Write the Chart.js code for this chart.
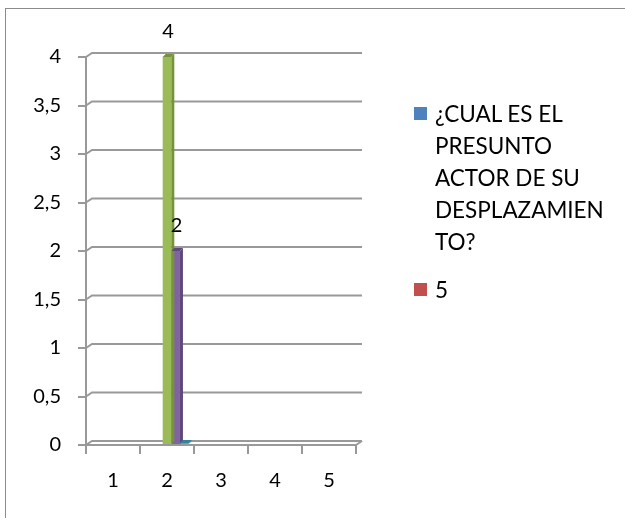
<!DOCTYPE html>
<html>
<head>
<meta charset="utf-8">
<script src="https://cdn.jsdelivr.net/npm/chart.js@4.4.0/dist/chart.umd.min.js"></script>
<style>
  html, body { margin: 0; padding: 0; background: #fff; overflow: hidden; }
  #wrap { position: relative; width: 625px; height: 518px; overflow: hidden; }
  #frame { position: absolute; left: 5px; top: 8px; width: 700px; height: 600px; border: 1px solid #8c8c8c; }
  #myChart { position: absolute; left: 0; top: 0; }
  .sw { position: absolute; width: 13px; height: 13px; }
  .lt { position: absolute; font-family: Lato, sans-serif; font-size: 22.5px; line-height: 32px; color: #000; white-space: nowrap; }
</style>
</head>
<body>
<div id="wrap">
  <div id="frame"></div>
  <canvas id="myChart" width="625" height="518"></canvas>
  <div id="legend"></div>
</div>
<script>
// Datos del gráfico
const categories = ["1", "2", "3", "4", "5"];
const seriesNames = ["¿CUAL ES EL PRESUNTO ACTOR DE SU DESPLAZAMIENTO?", "5", "Serie 3", "Serie 4", "Serie 5"];
const serie1 = [null, null, null, null, null];
const serie2 = [null, null, null, null, null];
const serie3 = [null, 4, null, null, null];
const serie4 = [null, 2, null, null, null];
const serie5 = [null, 0, null, null, null];
const colors = ["#4F81BD", "#C0504D", "#9BBB59", "#8064A2", "#4BACC6"];
const sideColors = ["#3A6394", "#963C3A", "#76923C", "#5F497A", "#31849B"];
// la leyenda solo muestra las dos primeras series, con el texto partido como en Excel
const legendLines = [["¿CUAL ES EL", "PRESUNTO", "ACTOR DE SU", "DESPLAZAMIEN", "TO?"], ["5"]];
const labelled = [2, 3]; // series con etiqueta de valor

Chart.defaults.font.family = "Lato, sans-serif";
Chart.defaults.color = "#000";

const dx = 3, dy = -3; // profundidad de las barras

// rejilla con efecto 3D (pared de fondo desplazada)
const grid3d = {
  id: "grid3d",
  beforeDatasetsDraw(chart) {
    const { ctx, chartArea, scales } = chart;
    const gx = 6, gy = -4;
    ctx.save();
    ctx.strokeStyle = "#999";
    ctx.lineWidth = 2;
    scales.y.ticks.forEach((t) => {
      const y = scales.y.getPixelForValue(t.value);
      ctx.beginPath();
      ctx.moveTo(chartArea.left, y);
      ctx.lineTo(chartArea.left + gx, y + gy);
      ctx.lineTo(chartArea.right + gx, y + gy);
      ctx.stroke();
    });
    ctx.beginPath();
    ctx.moveTo(chartArea.right, chartArea.bottom);
    ctx.lineTo(chartArea.right + gx, chartArea.bottom + gy);
    ctx.stroke();
    ctx.restore();
  },
  // caras lateral y superior de cada barra
  afterDatasetsDraw(chart) {
    const { ctx } = chart;
    ctx.save();
    chart.data.datasets.forEach((ds, i) => {
      chart.getDatasetMeta(i).data.forEach((bar, j) => {
        if (ds.data[j] === null) return;
        const r = bar.x + bar.width / 2, l = bar.x - bar.width / 2;
        const top = Math.min(bar.y, bar.base), base = Math.max(bar.y, bar.base);
        ctx.fillStyle = sideColors[i];
        ctx.beginPath();
        ctx.moveTo(r, top);
        ctx.lineTo(r + dx, top + dy);
        ctx.lineTo(r + dx, base + dy);
        ctx.lineTo(r, base);
        ctx.closePath();
        ctx.fill();
        ctx.beginPath();
        ctx.moveTo(l, top);
        ctx.lineTo(l + dx, top + dy);
        ctx.lineTo(r + dx, top + dy);
        ctx.lineTo(r, top);
        ctx.closePath();
        ctx.fill();
      });
    });
    ctx.restore();
  },
};

// etiquetas de valor encima de las barras
const valueLabels = {
  id: "valueLabels",
  afterDatasetsDraw(chart) {
    const { ctx } = chart;
    ctx.save();
    ctx.font = "20px Lato, sans-serif";
    ctx.fillStyle = "#000";
    ctx.textAlign = "center";
    ctx.textBaseline = "middle";
    labelled.forEach((i) => {
      const meta = chart.getDatasetMeta(i);
      meta.data.forEach((bar, j) => {
        const v = chart.data.datasets[i].data[j];
        if (v === null) return;
        ctx.fillText(String(v), bar.x + 1, bar.y - 25);
      });
    });
    ctx.restore();
  },
};

const allSeries = [serie1, serie2, serie3, serie4, serie5];

const data = {
  labels: categories,
  datasets: allSeries.map((s, i) => ({
    label: seriesNames[i],
    data: s,
    backgroundColor: colors[i],
    borderWidth: 0,
    categoryPercentage: 0.8,
    barPercentage: 1,
    minBarLength: i === 4 ? 2 : 0,
  })),
};

const config = {
  type: "bar",
  data: data,
  options: {
    responsive: false,
    animation: false,
    layout: { padding: { top: 57, right: 269, left: 0, bottom: 0 } },
    plugins: {
      legend: { display: false },
      tooltip: { enabled: false },
    },
    scales: {
      x: {
        grid: { drawOnChartArea: false, drawTicks: true, tickLength: 9, color: "#999", lineWidth: 2 },
        border: { display: true, color: "#999", width: 2 },
        ticks: { font: { size: 20 }, padding: 15 },
        afterFit: (s) => { s.height = 73; },
      },
      y: {
        min: 0,
        max: 4,
        grid: { drawOnChartArea: false, drawTicks: true, tickLength: 8, color: "#999", lineWidth: 2 },
        border: { display: true, color: "#999", width: 2 },
        ticks: {
          stepSize: 0.5,
          font: { size: 20 },
          padding: 17,
          callback: (v) => String(v).replace(".", ","),
        },
        afterFit: (s) => { s.width = 86; },
      },
    },
  },
  plugins: [grid3d, valueLabels],
};

const ctx = document.getElementById("myChart").getContext("2d");
new Chart(ctx, config);

// leyenda HTML
const legend = document.getElementById("legend");
const legendTops = [98, 274];
legendLines.forEach((lines, i) => {
  const sw = document.createElement("div");
  sw.className = "sw";
  sw.style.left = "414px";
  sw.style.top = (legendTops[i] + 9) + "px";
  sw.style.background = colors[i];
  legend.appendChild(sw);
  const t = document.createElement("div");
  t.className = "lt";
  t.style.left = "435px";
  t.style.top = legendTops[i] + "px";
  t.innerHTML = lines.join("<br>");
  legend.appendChild(t);
});
</script>
</body>
</html>
